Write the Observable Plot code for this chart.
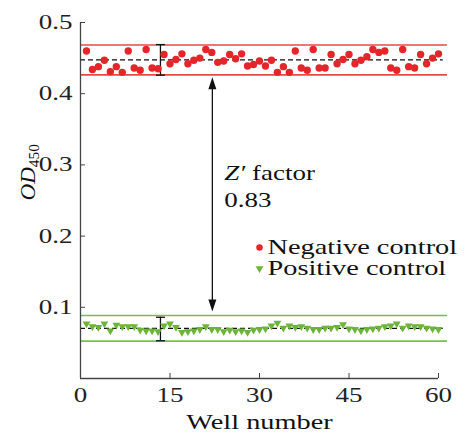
<!DOCTYPE html>
<html><head><meta charset="utf-8">
<script src="https://cdn.jsdelivr.net/npm/d3@7"></script>
<script src="https://cdn.jsdelivr.net/npm/@observablehq/plot@0.6"></script>
<style>
body{margin:0;background:#fff} svg{display:block}
#chart svg, #chart svg text, #chart svg g { font-family: "Liberation Serif", "Times New Roman", serif !important; }
</style>
</head><body><div id="chart"></div>
<script>
// ---- data ----
const wells = d3.range(1, 61);
const negative = [0.460,0.434,0.438,0.447,0.431,0.438,0.430,0.460,0.436,0.433,
                  0.462,0.436,0.435,0.455,0.442,0.448,0.456,0.442,0.447,0.450,
                  0.462,0.458,0.444,0.446,0.455,0.449,0.456,0.439,0.441,0.446,
                  0.439,0.447,0.430,0.438,0.430,0.460,0.436,0.433,0.462,0.436,
                  0.436,0.455,0.442,0.448,0.455,0.442,0.447,0.452,0.462,0.458,
                  0.460,0.436,0.433,0.462,0.438,0.436,0.455,0.442,0.450,0.456];
const positive = [0.077,0.073,0.072,0.077,0.067,0.075,0.073,0.073,0.073,0.068,
                  0.067,0.067,0.066,0.074,0.077,0.072,0.065,0.066,0.067,0.069,
                  0.073,0.069,0.069,0.066,0.068,0.066,0.067,0.065,0.068,0.069,
                  0.070,0.074,0.078,0.071,0.074,0.072,0.073,0.071,0.069,0.069,
                  0.071,0.071,0.072,0.076,0.070,0.069,0.067,0.069,0.070,0.071,
                  0.073,0.074,0.077,0.071,0.074,0.073,0.073,0.071,0.070,0.069];
const groups = ["Negative control", "Positive control"];
const means = [0.4475, 0.0705];
const lowerLimits = [0.4265, 0.0525];
const upperLimits = [0.4685, 0.0885];
const errorBarX = 13.4;
const errLow = [0.426, 0.053];
const errHigh = [0.469, 0.086];
const arrowX = 22.1;
const arrowEnds = [0.423, 0.094];
const annotX = 24.1;
const annotText = ["Z′ factor", "0.83"];
const annotY = [0.288, 0.250];
const legendX = 30;
const legendY = [0.184, 0.1545];
const xTicks = [0, 15, 30, 45, 60];
const yTicks = [0.1, 0.2, 0.3, 0.4, 0.5];
const lineEnd = 61.5;

const RED = "#e4262b", RED_LINE = "#ea4a44", GREEN = "#6cb43a", GREEN_LINE = "#79bf45";
const FONT = "Liberation Serif, Times New Roman, serif";

const negData = wells.map((w, i) => ({well: w, od: negative[i]}));
const posData = wells.map((w, i) => ({well: w, od: positive[i]}));
const limitLines = groups.flatMap((g, i) => [
  {y: lowerLimits[i], c: i === 0 ? RED_LINE : GREEN_LINE},
  {y: upperLimits[i], c: i === 0 ? RED_LINE : GREEN_LINE}
]);
const meanLines = means.map(m => ({y: m}));
const errBars = groups.map((g, i) => ({x: errorBarX, lo: errLow[i], hi: errHigh[i]}));
const caps = errBars.flatMap(d => [{x: d.x, y: d.lo}, {x: d.x, y: d.hi}]);
const heads = [{x: arrowX, y: arrowEnds[0], rot: 0}, {x: arrowX, y: arrowEnds[1], rot: 180}];
const legend = groups.map((g, i) => ({label: g, y: legendY[i]}));
const annot = annotText.map((t, i) => ({t, y: annotY[i]}));

const capSymbol = {draw(ctx) { ctx.moveTo(-4.5, 0); ctx.lineTo(4.5, 0); }};
const headSymbol = {draw(ctx) { ctx.moveTo(0, 0); ctx.lineTo(-4, 12); ctx.lineTo(4, 12); ctx.closePath(); }};

const chart = Plot.plot({
  width: 465, height: 434,
  marginLeft: 80, marginRight: 27, marginTop: 22, marginBottom: 56,
  style: {fontFamily: FONT, fontSize: "20px", color: "#222", background: "#fff"},
  x: {domain: [0, 60]},
  y: {domain: [0, 0.5]},
  marks: [
    Plot.ruleY(limitLines, {y: "y", x1: 0, x2: lineEnd, stroke: "c", strokeWidth: 1.6}),
    Plot.ruleY(meanLines, {y: "y", x1: 0, x2: lineEnd - 0.7, stroke: "#111", strokeWidth: 1.2, strokeDasharray: "5,3"}),
    Plot.ruleX(errBars, {x: "x", y1: "lo", y2: "hi", stroke: "#111", strokeWidth: 1.3}),
    Plot.dot(caps, {x: "x", y: "y", symbol: capSymbol, stroke: "#111", strokeWidth: 1.3, fill: "none"}),
    Plot.ruleX([arrowX], {x: d => d, y1: arrowEnds[1] + 0.01, y2: arrowEnds[0] - 0.01, stroke: "#111", strokeWidth: 1.3}),
    Plot.dot(heads, {x: "x", y: "y", rotate: "rot", symbol: headSymbol, fill: "#111", stroke: "none"}),
    Plot.dot(negData, {x: "well", y: "od", r: 3.7, fill: RED, stroke: "none"}),
    Plot.dot(posData, {x: "well", y: "od", symbol: "triangle", rotate: 180, r: 2.9, fill: GREEN, stroke: "none"}),
    Plot.dot(legend, {x: legendX, y: "y", symbol: (d, i) => i === 0 ? "circle" : "triangle", rotate: (d, i) => i === 0 ? 0 : 180, r: (d, i) => i === 0 ? 3.7 : 2.9, fill: (d, i) => i === 0 ? RED : GREEN, stroke: "none"}),
    Plot.text(legend, {x: legendX, y: "y", text: "label", dx: 8, textAnchor: "start", fontSize: 21, fill: "#111"}),
    Plot.text(annot, {x: annotX, y: "y", text: "t", textAnchor: "start", fontSize: 20, fill: "#111"}),
    Plot.ruleY([0], {x1: 0, x2: 60, stroke: "#444", strokeWidth: 1.3}),
    Plot.ruleX([0], {y1: 0, y2: 0.5, stroke: "#444", strokeWidth: 1.3}),
    Plot.axisX({ticks: xTicks, tickSize: -5, tickPadding: 14, fontSize: 20, label: null, stroke: "#444"}),
    Plot.axisY({ticks: yTicks, tickSize: -5, tickPadding: 13, fontSize: 20, label: null, tickFormat: d3.format(".1f"), stroke: "#444"}),
    Plot.text(["Well number"], {frameAnchor: "bottom", dy: 50, fontSize: 21, fill: "#111"}),
    Plot.text(["OD450"], {frameAnchor: "left", dx: -52, rotate: -90, fontSize: 21, fill: "#111"})
  ]
});
document.getElementById("chart").appendChild(chart);

// rich text: italics / subscripts, and the wide serif look of the original
const svg = d3.select(chart);
svg.selectAll("text").each(function() {
  const t = d3.select(this);
  const s = this.textContent;
  t.attr("font-family", FONT);
  let sx = 1.35;
  if (s === "OD450") {
    t.text(null);
    t.append("tspan").attr("font-style", "italic").text("OD");
    t.append("tspan").attr("font-size", "14px").attr("dy", "0.3em").text("450");
    sx = 1.1;
  } else if (s === "Z′ factor") {
    t.text(null);
    t.append("tspan").attr("font-style", "italic").text("Z′");
    t.append("tspan").text(" factor");
  }
  const tr = this.getAttribute("transform") || "";
  this.setAttribute("transform", tr + ` scale(${sx},1)`);
});
</script>
</body></html>
